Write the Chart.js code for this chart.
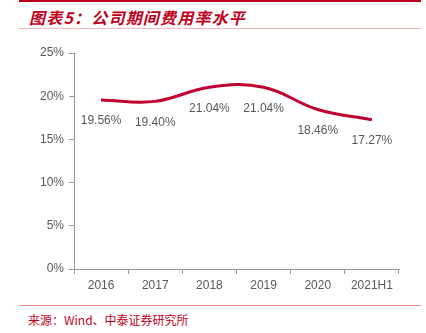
<!DOCTYPE html>
<html>
<head>
<meta charset="utf-8">
<script src="https://cdn.jsdelivr.net/npm/chart.js@4"></script>
<style>
  html, body { margin: 0; padding: 0; background: #fff; }
  body { width: 426px; height: 333px; position: relative; overflow: hidden; font-family: "Liberation Sans", Arial, sans-serif; }
  .rule-top { position: absolute; left: 19px; top: 0; width: 402px; height: 2px; background: #b8001c; }
  .title { position: absolute; left: 29px; top: 5px; font: italic bold 16px "Noto Sans CJK SC", sans-serif; color: #c0001c; letter-spacing: 1.2px; }
  .rule-mid { position: absolute; left: 19px; top: 28px; width: 402px; height: 1px; background: #f0b8b8; }
  .rule-bot { position: absolute; left: 19px; top: 305px; width: 402px; height: 1px; background: #ec8a8a; }
  .source { position: absolute; left: 28px; top: 311px; font: 12px "Noto Sans CJK SC", sans-serif; color: #c0001c; }
  .wrap { position: absolute; left: 0; top: 37px; width: 426px; height: 265px; }
</style>
</head>
<body>
<div class="rule-top"></div>
<div class="title">图表5：公司期间费用率水平</div>
<div class="rule-mid"></div>
<div class="wrap"><canvas id="lineChart"></canvas></div>
<div class="rule-bot"></div>
<div class="source">来源：Wind、中泰证券研究所</div>
<script>
var years = ['2016', '2017', '2018', '2019', '2020', '2021H1'];
var expenseRate = [19.56, 19.40, 21.04, 21.04, 18.46, 17.27];
var yTicks = [0, 5, 10, 15, 20, 25];

// value labels under each point
var valueLabels = {
    id: 'valueLabels',
    afterDatasetsDraw: function (chart) {
        var ctx = chart.ctx;
        var meta = chart.getDatasetMeta(0);
        ctx.save();
        ctx.font = '12px "Liberation Sans", Arial, sans-serif';
        ctx.fillStyle = '#595959';
        ctx.textAlign = 'center';
        ctx.textBaseline = 'middle';
        meta.data.forEach(function (pt, i) {
            ctx.fillText(expenseRate[i].toFixed(2) + '%', pt.x, pt.y + 21);
        });
        ctx.restore();
    }
};

var ctx = document.getElementById('lineChart').getContext('2d');
var lineChart = new Chart(ctx, {
    type: 'line',
    data: {
        labels: years,
        datasets: [{
            data: expenseRate,
            borderColor: '#c0002f',
            borderWidth: 3,
            tension: 0.4,
            pointRadius: 0,
            fill: false
        }]
    },
    options: {
        responsive: true,
        maintainAspectRatio: false,
        animation: false,
        layout: { padding: { top: 16, right: 27, left: 0, bottom: 0 } },
        plugins: {
            legend: { display: false },
            tooltip: { enabled: false }
        },
        scales: {
            x: {
                offset: true,
                grid: {
                    display: true,
                    drawOnChartArea: false,
                    drawTicks: true,
                    tickLength: 5,
                    color: '#999',
                    offset: true
                },
                border: { color: '#999' },
                ticks: {
                    color: '#595959',
                    font: { size: 12, family: '"Liberation Sans", Arial, sans-serif' },
                    padding: 4,
                    maxRotation: 0
                },
                afterFit: function (scale) { scale.height = 33; }
            },
            y: {
                min: 0,
                max: 25,
                afterBuildTicks: function (scale) {
                    scale.ticks = yTicks.map(function (v) { return { value: v }; });
                },
                grid: {
                    display: true,
                    drawOnChartArea: false,
                    drawTicks: true,
                    tickLength: 5,
                    color: '#999'
                },
                border: { color: '#999' },
                ticks: {
                    color: '#595959',
                    font: { size: 12, family: '"Liberation Sans", Arial, sans-serif' },
                    padding: 5,
                    callback: function (v) { return v + '%'; }
                },
                afterFit: function (scale) { scale.width = 74; }
            }
        }
    },
    plugins: [valueLabels]
});
</script>
</body>
</html>
